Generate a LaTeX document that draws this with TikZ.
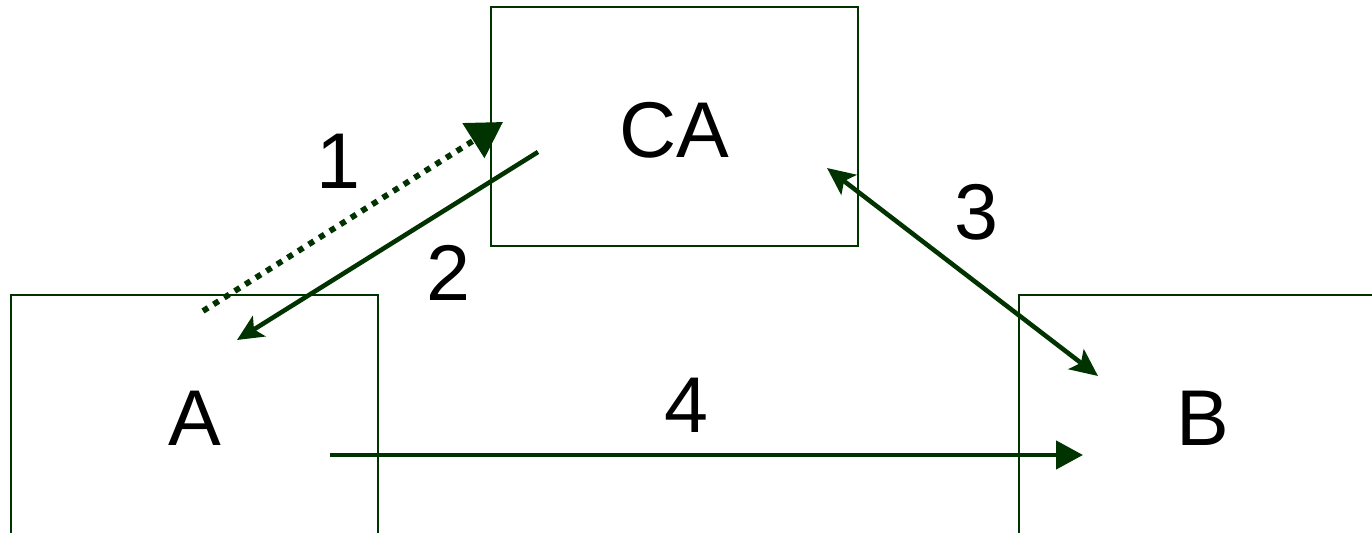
\documentclass[tikz,border=0pt]{standalone}
\usepackage{fontspec}
\setmainfont{Liberation Sans}
\usetikzlibrary{arrows.meta}
\definecolor{dkgreen}{RGB}{0,51,0}
\tikzset{
  party/.style={draw=dkgreen, line width=1.3pt, minimum width=7.34cm, minimum height=4.78cm,
                inner sep=0pt, font=\fontsize{45}{54}\selectfont,
                text height=35.6pt, text depth=0pt},
  steplabel/.style={font=\fontsize{45}{54}\selectfont, inner sep=0pt},
  flow/.style={draw=dkgreen, line width=2.6pt},
}
\begin{document}
\begin{tikzpicture}[x=0.02cm, y=-0.02cm]
\clip (0,0) rectangle (1372,533);
\fill[white] (0,0) rectangle (1372,533);

% parties
\node[party] (CA) at (674.5,126.5) {CA};
\node[party] (A)  at (194.5,414.5) {A};
\node[party] (B)  at (1202.5,414.5) {B};

% arrow end points
\coordinate (p1s) at (203,311);
\coordinate (p1e) at (503,122);
\coordinate (p2s) at (538,152);
\coordinate (p2e) at (237,340);
\coordinate (p3s) at (827,168);
\coordinate (p3e) at (1098,376);
\coordinate (p4s) at (330,455);
\coordinate (p4e) at (1083,455);

% 1: request (dotted)
\draw[flow, line width=3.3pt, dash pattern=on 0.12cm off 0.13cm,
      -{Triangle[length=0.7cm, width=0.8cm]}] (p1s) -- (p1e);
% 2: certificate returned
\draw[flow, -{Stealth[length=0.52cm, width=0.48cm, inset=0.12cm]}] (p2s) -- (p2e);
% 3: verification
\draw[flow, {Stealth[length=0.55cm, width=0.5cm, inset=0.12cm]}-{Stealth[length=0.55cm, width=0.5cm, inset=0.12cm]}] (p3s) -- (p3e);
% 4: message
\draw[flow, -{Triangle[length=0.54cm, width=0.56cm]}] (p4s) -- (p4e);

% step numbers
\node[steplabel] (n1) at (338,161) {1};
\node[steplabel] (n2) at (448,273) {2};
\node[steplabel] (n3) at (976,212) {3};
\node[steplabel] (n4) at (686,405) {4};
\end{tikzpicture}
\end{document}
